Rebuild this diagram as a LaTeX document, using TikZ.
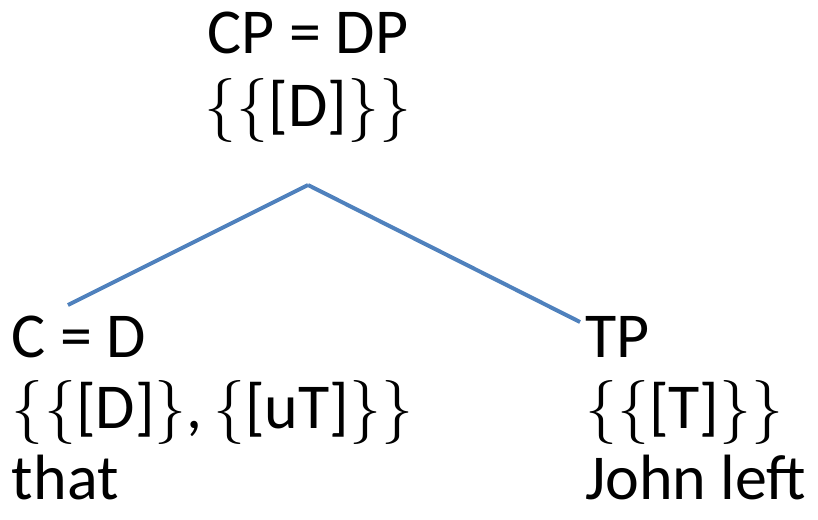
\documentclass[tikz,border=0pt]{standalone}
\usepackage{fontspec}
\setmainfont{Carlito}
\newfontfamily\bracefont{Latin Modern Roman}
\definecolor{myblue}{HTML}{4F81BD}
\usepackage{tikz}
\usetikzlibrary{positioning, calc}
\newcommand{\fsopen}{{\bracefont\{}}
\newcommand{\fsclose}{{\bracefont\}}}
\tikzset{
	labelnode/.style={
			font=\fontsize{64pt}{72pt}\selectfont,
			inner sep=0pt,
			outer sep=0pt,
			text=black
		},
	edgeline/.style={
			draw=myblue,
			line width=4pt,
			line cap=butt
		}
}
\begin{document}
\begin{tikzpicture}[x=1pt, y=1pt]
    \useasboundingbox (0,0) rectangle (818,-519);

    \node[labelnode, anchor=base] (cp) at (308,-53) {CP = DP};
    \node[labelnode, anchor=base] (cpfeat) at ([yshift=-73pt]cp.base) {\fsopen\fsopen[D]\fsclose\fsclose};

    \node[labelnode, anchor=base west] (c) at (12,-357) {C = D};
    \node[labelnode, anchor=base west] (cfeat) at ([yshift=-71pt]c.base west) {\fsopen\fsopen[D]\fsclose,\kern-4pt{} \fsopen[uT]\fsclose\fsclose};
    \node[labelnode, anchor=base west] (cword) at ([yshift=-71pt]cfeat.base west) {that};

    \node[labelnode, anchor=base west] (tp) at (585,-357) {TP};
    \node[labelnode, anchor=base west] (tpfeat) at ([yshift=-71pt]tp.base west) {\fsopen\fsopen[T]\fsclose\fsclose};
    \node[labelnode, anchor=base west] (tpword) at ([yshift=-71pt]tpfeat.base west) {John left};

    \coordinate (apex) at (308,-185);
    \coordinate (cend) at (68,-305);
    \coordinate (tpend) at (580,-322);

    \draw[edgeline] (apex) -- (cend);
    \draw[edgeline] (apex) -- (tpend);
\end{tikzpicture}
\end{document}
